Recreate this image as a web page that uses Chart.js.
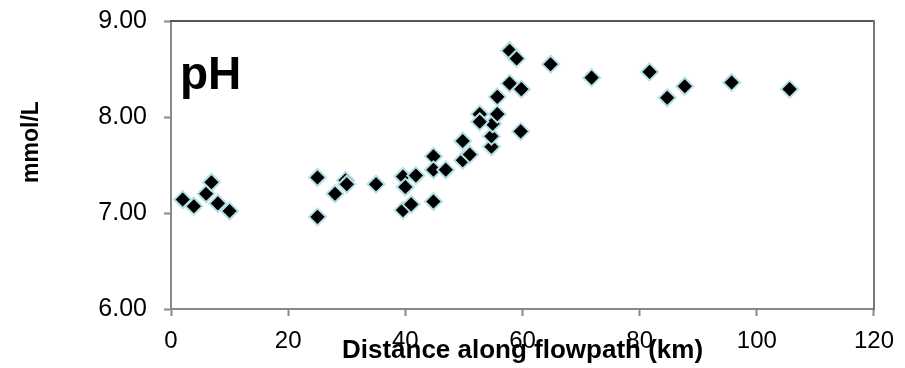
<!DOCTYPE html>
<html>
<head>
<meta charset="utf-8">
<script src="https://cdn.jsdelivr.net/npm/chart.js@4"></script>
<style>
  html, body { margin: 0; padding: 0; background: #fff; }
  #wrap { width: 905px; height: 368px; }
</style>
</head>
<body>
<div id="wrap"><canvas id="phChart" width="905" height="368"></canvas></div>
<script>
'use strict';

// distance along flowpath (km) and pH
var distanceKm = [2.0, 3.9, 6.0, 6.9, 8.0, 10.0,
    25.0, 25.0, 28.0, 29.8, 30.0, 35.0,
    39.6, 40.0, 41.8, 39.6, 41.0,
    44.8, 44.8, 46.9, 44.8,
    49.8, 51.0, 49.8, 54.7, 54.7, 54.9, 52.7, 52.7, 55.7, 55.7,
    57.8, 59.8, 59.7, 57.8, 59.0,
    64.8, 71.8, 81.7, 84.7, 87.7, 95.7, 105.6];
var phValues = [7.14, 7.07, 7.20, 7.32, 7.10, 7.02,
    7.37, 6.96, 7.20, 7.34, 7.30, 7.30,
    7.38, 7.27, 7.39, 7.03, 7.09,
    7.59, 7.45, 7.45, 7.12,
    7.55, 7.61, 7.75, 7.69, 7.80, 7.93, 8.03, 7.95, 8.03, 8.21,
    8.35, 8.29, 7.85, 8.69, 8.61,
    8.55, 8.41, 8.47, 8.20, 8.32, 8.36, 8.29];

var xTicks = [0, 20, 40, 60, 80, 100, 120];
var yTicks = [6, 7, 8, 9];

var points = distanceKm.map(function (d, i) {
    return {x: d, y: phValues[i]};
});

// "pH" label inside the plot and the y title
var labelsPlugin = {
    id: 'labels',
    afterDraw: function (chart) {
        var ctx = chart.ctx;
        var area = chart.chartArea;
        ctx.save();
        ctx.fillStyle = '#000';
        ctx.font = 'bold 46px "Liberation Sans", Arial, sans-serif';
        ctx.textAlign = 'left';
        ctx.textBaseline = 'alphabetic';
        ctx.fillText('pH', area.left + 9, area.top + 68);

        ctx.translate(32, 142);
        ctx.rotate(-Math.PI / 2);
        ctx.font = 'bold 23px "Liberation Sans", Arial, sans-serif';
        ctx.textAlign = 'center';
        ctx.textBaseline = 'middle';
        ctx.fillText('mmol/L', 0, 0);
        ctx.restore();
    }
};

var ctx = document.getElementById('phChart');
var chart = new Chart(ctx, {
    type: 'scatter',
    data: {
        datasets: [{
            data: points,
            pointStyle: 'rectRot',
            pointRadius: 8.5,
            pointHoverRadius: 8.5,
            backgroundColor: '#000000',
            borderColor: '#b4e0e6',
            borderWidth: 2
        }]
    },
    options: {
        responsive: false,
        animation: false,
        events: [],
        layout: {
            padding: {left: 0, right: 31, top: 21, bottom: 0}
        },
        plugins: {
            legend: {display: false},
            tooltip: {enabled: false}
        },
        scales: {
            x: {
                type: 'linear',
                position: 'bottom',
                min: 0,
                max: 120,
                afterBuildTicks: function (scale) {
                    scale.ticks = xTicks.map(function (v) { return {value: v}; });
                },
                afterFit: function (scale) { scale.height = 59; },
                ticks: {
                    color: '#000',
                    padding: 11,
                    maxRotation: 0,
                    font: {family: '"Liberation Sans", Arial, sans-serif', size: 24}
                },
                grid: {
                    drawOnChartArea: false,
                    tickLength: 7,
                    tickWidth: 2,
                    tickColor: '#888888'
                },
                border: {color: '#888888', width: 2},
                title: {
                    display: true,
                    text: 'Distance along flowpath (km)',
                    color: '#000',
                    padding: {top: 0, bottom: 2},
                    font: {family: '"Liberation Sans", Arial, sans-serif', size: 26, weight: 'bold'}
                }
            },
            y: {
                type: 'linear',
                position: 'left',
                min: 6,
                max: 9,
                afterBuildTicks: function (scale) {
                    scale.ticks = yTicks.map(function (v) { return {value: v}; });
                },
                afterFit: function (scale) {
                    scale.width = 171;
                    scale.paddingTop = 0;
                    scale.paddingBottom = 0;
                },
                ticks: {
                    color: '#000',
                    padding: 17,
                    font: {family: '"Liberation Sans", Arial, sans-serif', size: 25},
                    callback: function (v) { return Number(v).toFixed(2); }
                },
                grid: {
                    drawOnChartArea: false,
                    tickLength: 7,
                    tickWidth: 2,
                    tickColor: '#888888'
                },
                border: {color: '#888888', width: 2}
            },
            xTop: {
                type: 'linear',
                position: 'top',
                min: 0,
                max: 120,
                ticks: {display: false},
                grid: {display: false, drawTicks: false},
                afterFit: function (scale) { scale.height = 0; },
                border: {color: '#555555', width: 2}
            },
            yRight: {
                type: 'linear',
                position: 'right',
                min: 6,
                max: 9,
                ticks: {display: false},
                grid: {display: false, drawTicks: false},
                afterFit: function (scale) { scale.width = 0; },
                border: {color: '#777777', width: 2}
            }
        }
    },
    plugins: [labelsPlugin]
});
</script>
</body>
</html>
